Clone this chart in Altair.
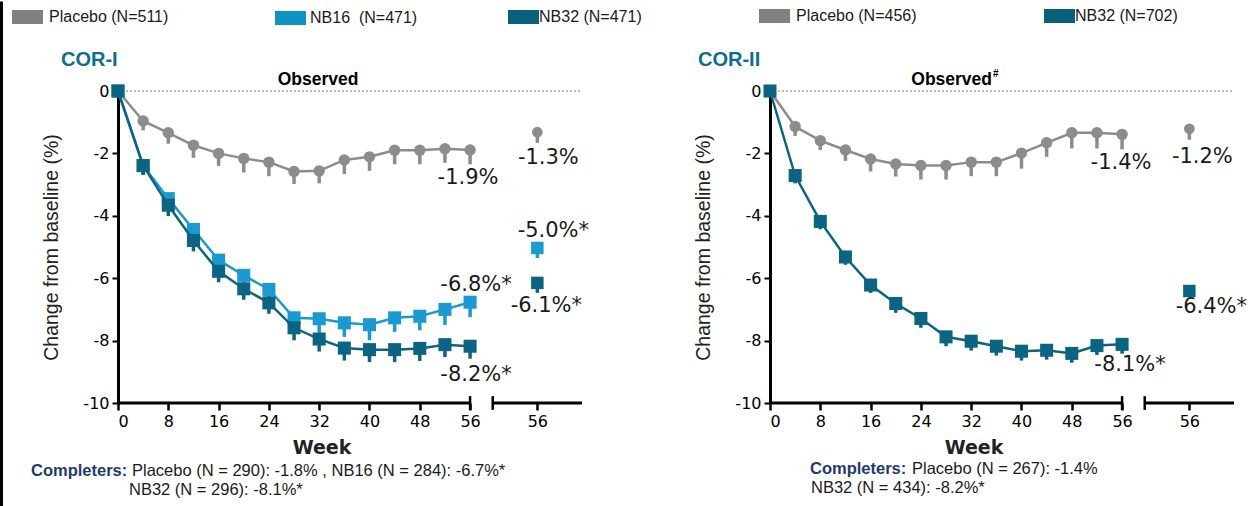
import altair as alt
import pandas as pd

# ---------------- data ----------------
weeks = [0, 4, 8, 12, 16, 20, 24, 28, 32, 36, 40, 44, 48, 52, 56]

# COR-I (observed)
cor1_placebo = [0, -0.96, -1.34, -1.74, -2.0, -2.16, -2.28, -2.58, -2.56, -2.21, -2.11, -1.9, -1.9, -1.85, -1.89]
cor1_placebo_err = [0, 0.3, 0.35, 0.4, 0.4, 0.45, 0.45, 0.4, 0.4, 0.45, 0.45, 0.45, 0.45, 0.45, 0.46]
cor1_nb16 = [0, -2.39, -3.45, -4.44, -5.42, -5.91, -6.36, -7.27, -7.3, -7.43, -7.49, -7.27, -7.22, -7.0, -6.77]
cor1_nb16_err = [0, 0.3, 0.35, 0.4, 0.4, 0.4, 0.4, 0.45, 0.45, 0.45, 0.5, 0.45, 0.45, 0.5, 0.48]
cor1_nb32 = [0, -2.39, -3.66, -4.79, -5.78, -6.34, -6.79, -7.59, -7.95, -8.24, -8.29, -8.29, -8.25, -8.13, -8.18]
cor1_nb32_err = [0, 0.3, 0.35, 0.35, 0.35, 0.35, 0.35, 0.4, 0.4, 0.4, 0.4, 0.4, 0.4, 0.4, 0.4]
cor1_side_groups = ["Placebo", "NB16", "NB32"]
cor1_side_vals = [-1.32, -5.03, -6.15]
cor1_side_errs = [0.34, 0.32, 0.32]

# COR-II (observed)
cor2_placebo = [0, -1.14, -1.59, -1.89, -2.18, -2.34, -2.39, -2.39, -2.28, -2.28, -1.99, -1.66, -1.34, -1.34, -1.39]
cor2_placebo_err = [0, 0.3, 0.3, 0.35, 0.4, 0.4, 0.45, 0.45, 0.45, 0.45, 0.5, 0.45, 0.5, 0.5, 0.48]
cor2_nb32 = [0, -2.71, -4.18, -5.32, -6.22, -6.81, -7.29, -7.88, -8.02, -8.18, -8.34, -8.31, -8.41, -8.16, -8.12]
cor2_nb32_err = [0, 0.25, 0.25, 0.25, 0.25, 0.3, 0.3, 0.3, 0.3, 0.3, 0.3, 0.3, 0.3, 0.3, 0.3]
cor2_side_groups = ["Placebo", "NB32"]
cor2_side_vals = [-1.21, -6.41]
cor2_side_errs = [0.35, 0.2]

y_ticks = [0, -2, -4, -6, -8, -10]
x_ticks = [0, 8, 16, 24, 32, 40, 48, 56]

# ---------------- style ----------------
COLORS = {"Placebo": "#8c8c8c", "NB16": "#1a9ad0", "NB32": "#0a6482"}
SWATCH = {"Placebo": "#808080", "NB16": "#0f93c6", "NB32": "#08607a"}
SHAPES = {"Placebo": "circle", "NB16": "square", "NB32": "square"}
SIZES = {"Placebo": 130, "NB16": 170, "NB32": 170}
SIDE_X = 66.7
BREAK_X = 59.6
X_MAX = 73.8
W, H = 464, 312
NUM_FONT = "DejaVu Sans"
TXT_FONT = "Liberation Sans"


def series_df(vals, errs):
    return pd.DataFrame({
        "week": weeks,
        "value": vals,
        "low": [v - e for v, e in zip(vals, errs)],
    })


def side_df(groups, vals, errs):
    return pd.DataFrame({
        "group": groups,
        "week": [SIDE_X] * len(groups),
        "value": vals,
        "low": [v - e for v, e in zip(vals, errs)],
    })


def text_layer(txt, x, y, size, color="black", weight="normal", font=TXT_FONT, align="left"):
    return alt.Chart(pd.DataFrame({"t": [txt]})).mark_text(
        font=font, fontSize=size, fontWeight=weight, color=color,
        align=align, baseline="middle"
    ).encode(text="t:N", x=alt.value(x), y=alt.value(y))


def panel(series, side, labels, legend, title, title_x, obs_x, obs_sup,
          comp_x, comp_rest_x, comp_y, comp_rest, comp2_x, comp2, border=False):
    xenc = alt.X(
        "week:Q",
        scale=alt.Scale(domain=[0, X_MAX], nice=False, zero=False),
        axis=alt.Axis(
            values=x_ticks + [SIDE_X],
            labelExpr=f"datum.value > {BREAK_X} ? '56' : '' + datum.value",
            domain=False, grid=False, ticks=True, tickSize=7, tickWidth=2.5,
            tickColor="black", labelFont=NUM_FONT, labelFontSize=16,
            labelColor="black", labelPadding=3, title=None,
        ),
    )
    yenc = alt.Y(
        "value:Q",
        scale=alt.Scale(domain=[-10, 0], nice=False, zero=False),
        axis=alt.Axis(
            values=y_ticks,
            labelExpr="datum.value == 0 ? '0' : '-' + abs(datum.value)",
            grid=False, domainColor="black", domainWidth=3, tickColor="black",
            tickSize=6, tickWidth=2, labelFont=NUM_FONT, labelFontSize=16,
            labelColor="black", labelPadding=3,
            title="Change from baseline (%)", titleFont=TXT_FONT,
            titleFontSize=19.5, titleFontWeight="normal", titleColor="#222222",
            titleX=-57, titleY=H / 2,
        ),
    )

    layers = []
    # zero reference line (dotted)
    layers.append(
        alt.Chart(pd.DataFrame({"a": [0]})).mark_rule(
            color="#777777", strokeWidth=1, strokeDash=[2, 2]
        ).encode(x=alt.datum(0), x2=alt.datum(X_MAX), y=alt.datum(0))
    )
    # broken x axis
    seg = pd.DataFrame({"x": [0, BREAK_X], "x2": [56, X_MAX]})
    layers.append(
        alt.Chart(seg).mark_rule(color="black", strokeWidth=3).encode(
            x=alt.X("x:Q"), x2="x2:Q", y=alt.datum(-10)
        )
    )
    ends = pd.DataFrame({"x": [56, BREAK_X]})
    layers.append(
        alt.Chart(ends).mark_rule(color="black", strokeWidth=2.5).encode(
            x="x:Q", y=alt.datum(-10.22), y2=alt.datum(-9.78)
        )
    )

    first = True
    for g, df in series:
        c = COLORS[g]
        base = alt.Chart(df)
        if first:
            layers.append(base.mark_line(color=c, strokeWidth=2.5).encode(x=xenc, y=yenc))
            first = False
        else:
            layers.append(base.mark_line(color=c, strokeWidth=2.5).encode(x="week:Q", y="value:Q"))
        layers.append(base.mark_rule(color=c, strokeWidth=3.5).encode(
            x="week:Q", y="value:Q", y2="low:Q"))
        layers.append(base.mark_point(
            filled=True, opacity=1, shape=SHAPES[g], size=SIZES[g], color=c
        ).encode(x="week:Q", y="value:Q"))

    # separate week-56 points
    for _, r in side.iterrows():
        g = r["group"]
        c = COLORS[g]
        d = pd.DataFrame([r])
        layers.append(alt.Chart(d).mark_rule(color=c, strokeWidth=3.5).encode(
            x="week:Q", y="value:Q", y2="low:Q"))
        layers.append(alt.Chart(d).mark_point(
            filled=True, opacity=1, shape=SHAPES[g], size=SIZES[g] - 15, color=c
        ).encode(x="week:Q", y="value:Q"))

    # value labels
    for txt, wk, val, dx, dy in labels:
        layers.append(
            alt.Chart(pd.DataFrame({"week": [wk], "value": [val], "t": [txt]})).mark_text(
                font=NUM_FONT, fontSize=21, color="#1a1a1a", align="center",
                baseline="middle", dx=dx, dy=dy
            ).encode(x="week:Q", y="value:Q", text="t:N")
        )

    # legend row
    for g, txt, sx, tx, sy in legend:
        layers.append(
            alt.Chart(pd.DataFrame({"a": [0]})).mark_rect(color=SWATCH[g]).encode(
                x=alt.value(sx), x2=alt.value(sx + 31), y=alt.value(sy), y2=alt.value(sy + 14)
            )
        )
        layers.append(text_layer(txt, tx, sy + 7, 16, color="#1a1a1a"))

    # titles
    layers.append(text_layer(title, title_x, -31, 20, color="#0c6f8e", weight="bold"))
    if obs_sup:
        layers.append(text_layer("Observed", obs_x, -11, 17.5, weight="bold", align="right"))
        layers.append(text_layer("#", obs_x + 1, -17, 10, weight="bold"))
    else:
        layers.append(text_layer("Observed", obs_x, -11, 17.5, weight="bold", align="center"))
    layers.append(text_layer("Week", 204, 357, 19, font=NUM_FONT, weight="bold", color="#222222", align="center"))

    # completers note
    layers.append(text_layer("Completers:", comp_x, comp_y, 16.5, color="#1f3a6e", weight="bold"))
    layers.append(text_layer(comp_rest, comp_rest_x, comp_y, 16.5, color="#1a1a1a"))
    layers.append(text_layer(comp2, comp2_x, comp_y + 19, 16.5, color="#1a1a1a"))

    if border:
        layers.append(
            alt.Chart(pd.DataFrame({"a": [0]})).mark_rule(color="black", strokeWidth=3).encode(
                x=alt.value(-116.5), y=alt.value(-89.5), y2=alt.value(415)
            )
        )

    return alt.layer(*layers).properties(width=W, height=H)


left = panel(
    series=[("Placebo", series_df(cor1_placebo, cor1_placebo_err)),
            ("NB16", series_df(cor1_nb16, cor1_nb16_err)),
            ("NB32", series_df(cor1_nb32, cor1_nb32_err))],
    side=side_df(cor1_side_groups, cor1_side_vals, cor1_side_errs),
    labels=[("-1.9%", 56, cor1_placebo[-1], -2, 28),
            ("-1.3%", SIDE_X, cor1_side_vals[0], 11, 26),
            ("-5.0%*", SIDE_X, cor1_side_vals[1], 16, -17),
            ("-6.8%*", 56, cor1_nb16[-1], 6, -17),
            ("-6.1%*", SIDE_X, cor1_side_vals[2], 9, 23),
            ("-8.2%*", 56, cor1_nb32[-1], 6, 29)],
    legend=[("Placebo", "Placebo (N=511)", -106, -69, -81),
            ("NB16", "NB16\u00a0 (N=471)", 157, 192, -80),
            ("NB32", "NB32 (N=471)", 390, 421, -81)],
    title="COR-I", title_x=-57, obs_x=200, obs_sup=False,
    comp_x=-87, comp_rest_x=14, comp_y=380,
    comp_rest="Placebo (N = 290): -1.8% , NB16 (N = 284): -6.7%*",
    comp2_x=11, comp2="NB32 (N = 296): -8.1%*",
    border=True,
)

right = panel(
    series=[("Placebo", series_df(cor2_placebo, cor2_placebo_err)),
            ("NB32", series_df(cor2_nb32, cor2_nb32_err))],
    side=side_df(cor2_side_groups, cor2_side_vals, cor2_side_errs),
    labels=[("-1.4%", 56, cor2_placebo[-1], -1, 29),
            ("-1.2%", SIDE_X, cor2_side_vals[0], 13, 28),
            ("-6.4%*", SIDE_X, cor2_side_vals[1], 22, 16),
            ("-8.1%*", 56, cor2_nb32[-1], 8, 21)],
    legend=[("Placebo", "Placebo (N=456)", -11, 26, -82),
            ("NB32", "NB32 (N=702)", 274, 305, -82)],
    title="COR-II", title_x=-72, obs_x=222, obs_sup=True,
    comp_x=40, comp_rest_x=142, comp_y=378,
    comp_rest="Placebo (N = 267): -1.4%",
    comp2_x=41, comp2="NB32 (N = 434): -8.2%*",
)

chart = alt.hconcat(left, right, spacing=188, bounds="flush").configure_view(
    stroke=None
).properties(padding=0, background="white")

chart.save("out.html", embed_options={"renderer": "svg", "actions": False})
